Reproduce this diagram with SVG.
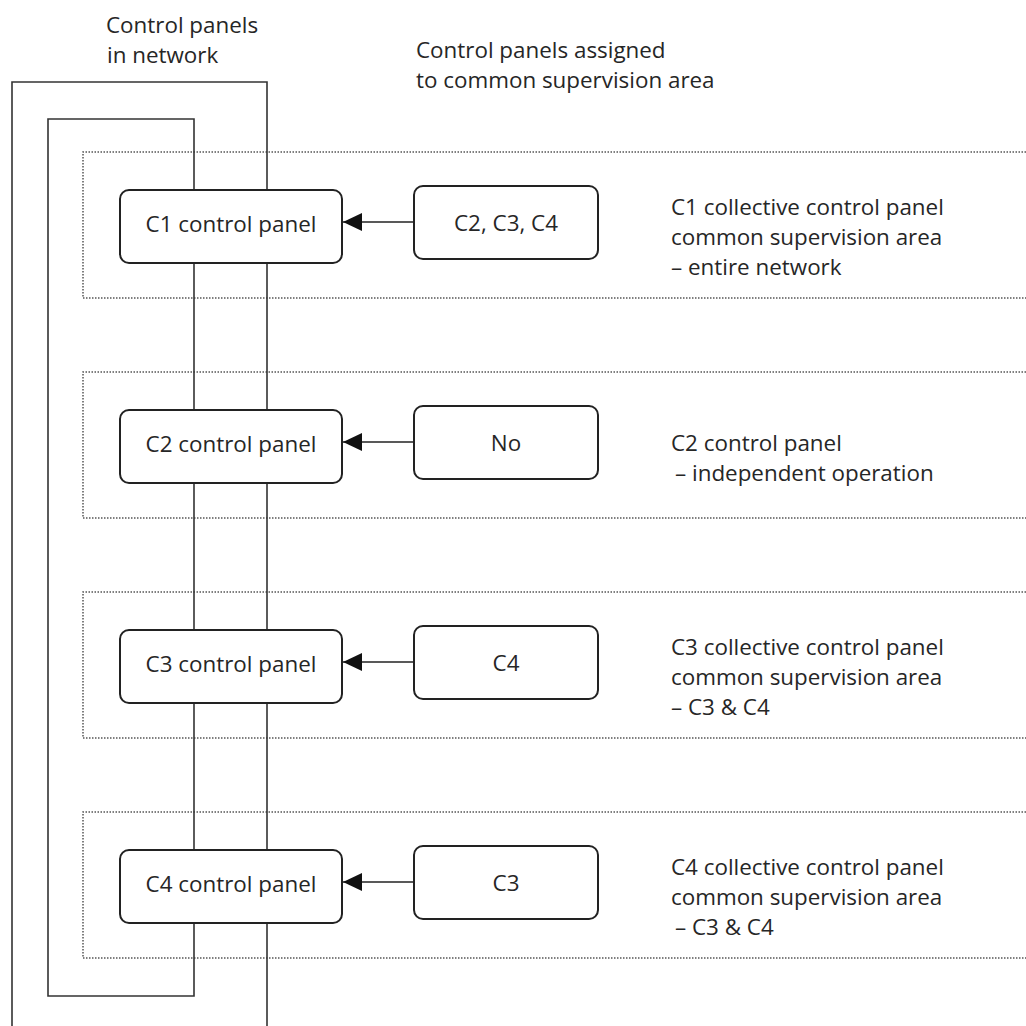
<svg xmlns="http://www.w3.org/2000/svg" width="1026" height="1026" viewBox="0 0 1026 1026">
<defs>
<style>
text{font-family:"Open Sans","Noto Sans","Liberation Sans",sans-serif;font-size:22.4px;fill:#262626}
.mid{text-anchor:middle}
.band{fill:none;stroke:#555;stroke-width:1.5;stroke-dasharray:1.5 1.5}
.wire{fill:none;stroke:#333;stroke-width:1.6}
.box{fill:#fff;stroke:#222;stroke-width:2}
.arrow{fill:none;stroke:#222;stroke-width:1.6;marker-end:url(#ah)}
</style>
<marker id="ah" markerUnits="userSpaceOnUse" markerWidth="20" markerHeight="20" refX="19" refY="9" orient="auto">
<path d="M0,0 L19,9 L0,18 Z" fill="#111"/>
</marker>
</defs>
<rect width="1026" height="1026" fill="#fff"/>

<g id="headers">
<text x="106" y="33">Control panels</text>
<text x="107" y="63">in network</text>
<text x="416" y="58">Control panels assigned</text>
<text x="416" y="88">to common supervision area</text>
</g>

<g id="areas">
<path class="band" d="M1026,152 H83 V298 H1026"/>
<path class="band" d="M1026,372 H83 V518 H1026"/>
<path class="band" d="M1026,592 H83 V738 H1026"/>
<path class="band" d="M1026,812 H83 V958 H1026"/>
</g>

<g id="connectors">
<path class="wire" d="M12,1026 V82 H267 V1026"/>
<path class="wire" d="M194,190 V119 H48 V996 H194 V923"/>
<line class="wire" x1="194" y1="263" x2="194" y2="850"/>
<line class="arrow" x1="414" y1="222" x2="343" y2="222"/>
<line class="arrow" x1="414" y1="442" x2="343" y2="442"/>
<line class="arrow" x1="414" y1="662" x2="343" y2="662"/>
<line class="arrow" x1="414" y1="882" x2="343" y2="882"/>
</g>

<g id="c1">
<rect class="box" x="120" y="190" width="222" height="73" rx="9"/>
<text class="mid" x="231" y="232">C1 control panel</text>
</g>
<g id="c1-assigned">
<rect class="box" x="414" y="186" width="184" height="73" rx="9"/>
<text class="mid" x="506" y="231">C2, C3, C4</text>
</g>
<g id="c1-note">
<text x="671" y="215">C1 collective control panel</text>
<text x="671" y="245">common supervision area</text>
<text x="671" y="275">– entire network</text>
</g>

<g id="c2">
<rect class="box" x="120" y="410" width="222" height="73" rx="9"/>
<text class="mid" x="231" y="452">C2 control panel</text>
</g>
<g id="c2-assigned">
<rect class="box" x="414" y="406" width="184" height="73" rx="9"/>
<text class="mid" x="506" y="451">No</text>
</g>
<g id="c2-note">
<text x="671" y="451">C2 control panel</text>
<text x="675" y="481">– independent operation</text>
</g>

<g id="c3">
<rect class="box" x="120" y="630" width="222" height="73" rx="9"/>
<text class="mid" x="231" y="672">C3 control panel</text>
</g>
<g id="c3-assigned">
<rect class="box" x="414" y="626" width="184" height="73" rx="9"/>
<text class="mid" x="506" y="671">C4</text>
</g>
<g id="c3-note">
<text x="671" y="655">C3 collective control panel</text>
<text x="671" y="685">common supervision area</text>
<text x="671" y="715">– C3 &amp; C4</text>
</g>

<g id="c4">
<rect class="box" x="120" y="850" width="222" height="73" rx="9"/>
<text class="mid" x="231" y="892">C4 control panel</text>
</g>
<g id="c4-assigned">
<rect class="box" x="414" y="846" width="184" height="73" rx="9"/>
<text class="mid" x="506" y="891">C3</text>
</g>
<g id="c4-note">
<text x="671" y="875">C4 collective control panel</text>
<text x="671" y="905">common supervision area</text>
<text x="675" y="935">– C3 &amp; C4</text>
</g>
</svg>
